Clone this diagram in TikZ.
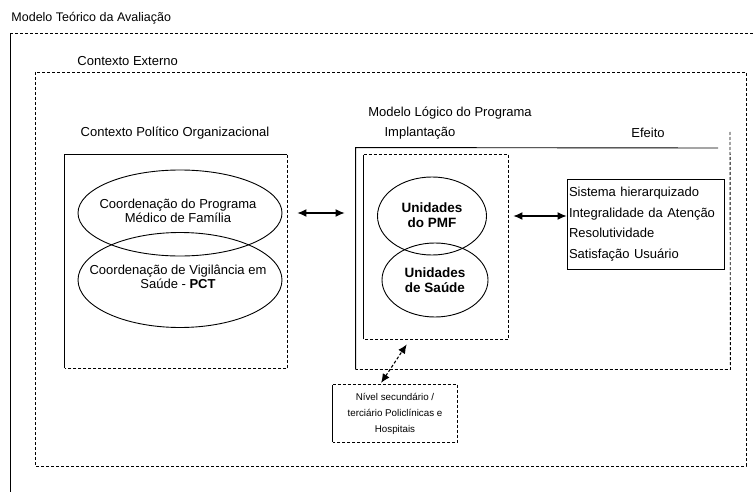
\documentclass[tikz,border=0pt]{standalone}
\usepackage{fontspec}
\setmainfont{Liberation Sans}
\usetikzlibrary{arrows.meta,shapes.geometric}

\tikzset{
  texto/.style={font=\fontsize{13}{14.5}\selectfont, inner sep=1pt},
  tracos/.style={dash pattern=on 3pt off 2pt},
  elipse/.style={draw, ellipse, inner sep=0pt},
  negrito/.style={align=center, font=\fontsize{13.5}{15}\selectfont\bfseries},
  caixa/.style={minimum width=#1, inner sep=0pt},
  dupla/.style={{Latex[length=9pt,width=8pt]}-{Latex[length=9pt,width=8pt]}, line width=1.1pt}
}

\begin{document}
\begin{tikzpicture}[x=1pt, y=-1pt, line width=0.9pt]
  \useasboundingbox (0,0) rectangle (755,492);

  % moldura externa
  \node[texto, anchor=west, font=\fontsize{12.5}{14}\selectfont] (titulo) at (10,18) {Modelo Teórico da Avaliação};
  \draw (10,492) -- (10,33);
  \draw[tracos] (10,33) -- (755,33);

  % contexto externo
  \draw[tracos] (35,72) rectangle (746,466);
  \node[texto, anchor=west] (externo) at (76,61) {Contexto Externo};

  % contexto politico
  \node[texto] (politico) at (175,133) {Contexto Político Organizacional};
  \node[caixa=222pt, minimum height=213pt] (polbox) at (176,261.5) {};
  \draw (polbox.south west) -- (polbox.north west) -- (polbox.north east);
  \draw[tracos] (polbox.north east) -- (polbox.south east) -- (polbox.south west);
  \node[elipse, minimum width=204pt, minimum height=86pt] (coordpmf) at (180,213) {};
  \node[elipse, minimum width=204pt, minimum height=95pt] (coordvig) at (180,280) {};
  \node[texto, align=center] (txtpmf) at (178,211) {Coordenação do Programa\\Médico de Família};
  \node[texto, align=center] (txtvig) at (178,277) {Coordenação de Vigilância em\\Saúde - \textbf{PCT}};

  % modelo logico
  \node[texto] (logico) at (450,113) {Modelo Lógico do Programa};
  \node[texto] (implant) at (420,133) {Implantação};
  \node[texto] (efeitotit) at (648,133) {Efeito};
  \node[caixa=374pt, minimum height=221pt] (logbox) at (543,258.5) {};
  \draw (logbox.south west) -- (logbox.north west) -- (718,148);
  \draw[tracos] (730,132) -- (logbox.south east) -- (logbox.south west);

  \node[caixa=144pt, minimum height=184pt] (implbox) at (436,247) {};
  \draw (implbox.south west) -- (implbox.north west);
  \draw[tracos] (implbox.north west) -- (implbox.north east) -- (implbox.south east) -- (implbox.south west);
  \node[elipse, minimum width=109pt, minimum height=78pt] (pmf) at (432,216) {};
  \node[elipse, minimum width=106pt, minimum height=74pt] (saude) at (435,280) {};
  \node[negrito] (txtunipmf) at (432,215) {Unidades\\do PMF};
  \node[negrito] (txtunisaude) at (435,280) {Unidades\\de Saúde};

  \node[draw, texto, align=left, text width=153pt, minimum height=90pt, inner sep=2pt,
        font=\fontsize{13}{20.5}\selectfont] (efeito) at (645.5,224)
    {Sistema hierarquizado\\Integralidade da Atenção\\Resolutividade\\Satisfação Usuário};

  % nivel secundario
  \node[caixa=124pt, minimum height=57pt, align=center, font=\fontsize{9.8}{16}\selectfont] (nivel) at (395,413.5)
    {Nível secundário /\\terciário Policlínicas e\\Hospitais};
  \draw (nivel.south west) -- (nivel.north west);
  \draw[tracos] (nivel.north west) -- (nivel.north east) -- (nivel.south east) -- (nivel.south west);

  % setas
  \draw[dupla, shorten <=10pt, shorten >=11pt] (polbox.east |- coordpmf) -- (logbox.west |- coordpmf);
  \draw[dupla, shorten <=5pt] (implbox.east |- pmf) -- (efeito.west |- pmf);
  \draw[dupla, tracos, shorten <=2pt, shorten >=6pt] ([xshift=-15pt]nivel.north) -- ([xshift=-26pt]implbox.south);
\end{tikzpicture}
\end{document}
